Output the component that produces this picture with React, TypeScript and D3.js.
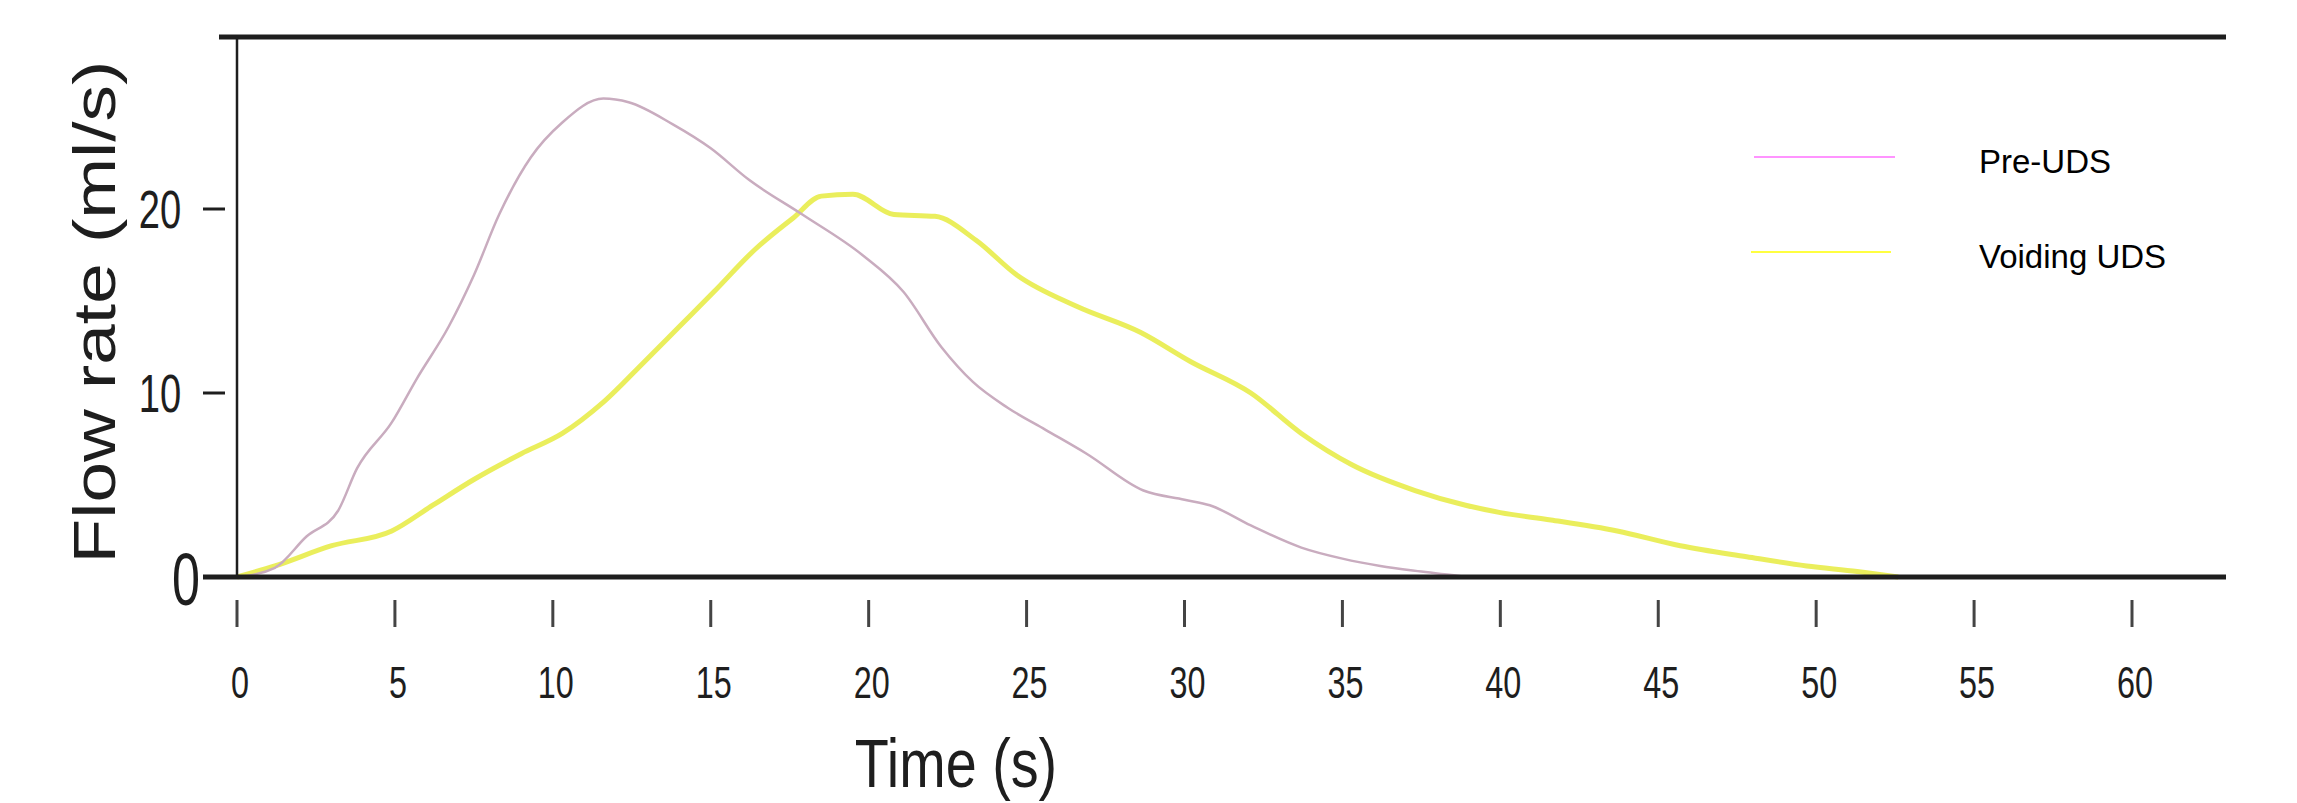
import React from 'react';
import * as d3 from 'd3';

// chart data
const preTime = [0, 1.2, 2.2, 3.2, 3.8, 4.9, 5.7, 6.7, 7.5, 8.3, 9.3, 10.3, 11.6, 12.4, 13.8, 15.0, 16.2, 17.9, 19.8, 21.1, 22.3, 23.3, 24.4, 25.6, 26.9, 28.7, 30.0, 30.8, 32.1, 33.7, 35.0, 36.2, 37.5, 39.0];
const preFlow = [0, 0.5, 2.2, 3.6, 5.9, 8.4, 10.8, 13.6, 16.4, 19.7, 22.8, 24.7, 26.0, 25.8, 24.6, 23.3, 21.6, 19.7, 17.5, 15.5, 12.5, 10.6, 9.2, 8.0, 6.7, 4.7, 4.2, 3.9, 2.8, 1.6, 1.0, 0.6, 0.3, 0];

const voidTime = [0, 1.2, 3.0, 4.9, 6.2, 7.5, 9.0, 10.3, 11.6, 12.9, 14.0, 15.1, 16.4, 17.6, 18.5, 19.5, 20.8, 22.1, 23.4, 24.7, 26.6, 28.6, 30.2, 32.1, 33.7, 35.3, 37.3, 38.9, 40.0, 41.6, 43.7, 45.7, 47.8, 49.7, 51.3, 52.6];
const voidFlow = [0, 0.6, 1.7, 2.5, 3.9, 5.3, 6.7, 7.8, 9.5, 11.7, 13.6, 15.5, 17.8, 19.5, 20.7, 20.8, 19.7, 19.6, 18.3, 16.4, 14.7, 13.3, 11.7, 10.0, 7.8, 6.1, 4.7, 3.9, 3.5, 3.1, 2.5, 1.7, 1.1, 0.6, 0.3, 0];

const xTicks = [0, 5, 10, 15, 20, 25, 30, 35, 40, 45, 50, 55, 60];
const yTicks = [10, 20];
const seriesNames = ['Pre-UDS', 'Voiding UDS'];

const W = 2297;
const H = 803;
const font = '"Liberation Sans", Arial, Helvetica, sans-serif';
const ink = '#1e1e1e';

const preColor = '#c9acbf';
const voidColor = '#e8ec4a';
const legendColors = ['#ff70ff', '#ffff00'];

// squashed text, the scanned original is narrow
const Squash = ({x, y, size, sx = 0.72, anchor = 'middle', children}) => (
    <text transform={`translate(${x},${y}) scale(${sx},1)`} fontSize={size}
          textAnchor={anchor} fill={ink} fontFamily={font}>{children}</text>
);

const App = () => {
    const x = d3.scaleLinear().domain([0, 60]).range([237, 2132]);
    const y = d3.scaleLinear().domain([0, 20]).range([577, 209]);
    const yTop = 29.35;

    const line = d3.line().curve(d3.curveMonotoneX);
    const prePath = line(preTime.map((t, i) => [x(t), y(preFlow[i])]));
    const voidPath = line(voidTime.map((t, i) => [x(t), y(voidFlow[i])]));

    return (
        <svg width={W} height={H} style={{position: 'absolute', left: 0, top: 0, background: '#fff'}}>
            <rect width={W} height={H} fill="#fff"/>

            {/* curves */}
            <path d={voidPath} fill="none" stroke={voidColor} strokeWidth={5} strokeLinejoin="round" opacity={0.9}/>
            <path d={prePath} fill="none" stroke={preColor} strokeWidth={2.5} strokeLinejoin="round"/>

            {/* frame */}
            <line x1={219} x2={2226} y1={y(yTop)} y2={y(yTop)} stroke={ink} strokeWidth={5}/>
            <line x1={x(0)} x2={x(0)} y1={y(yTop)} y2={y(0)} stroke={ink} strokeWidth={2.5}/>
            <line x1={203} x2={2226} y1={y(0)} y2={y(0)} stroke={ink} strokeWidth={5}/>

            {/* y ticks */}
            {yTicks.map(v => (
                <g key={'y' + v}>
                    <line x1={203} x2={225} y1={y(v)} y2={y(v)} stroke={ink} strokeWidth={3}/>
                    <Squash x={160} y={y(v) + 19} size={53}>{v}</Squash>
                </g>
            ))}
            <Squash x={186} y={605} size={74} sx={0.68}>0</Squash>

            {/* x ticks */}
            {xTicks.map(t => (
                <g key={'x' + t}>
                    <line x1={x(t)} x2={x(t)} y1={600} y2={627} stroke="#444" strokeWidth={3}/>
                    <Squash x={x(t) + 3} y={698} size={45}>{t}</Squash>
                </g>
            ))}

            {/* axis titles */}
            <Squash x={956} y={787} size={68} sx={0.82}>Time (s)</Squash>
            <text transform="translate(115,312) rotate(-90) scale(1,0.8)" fontSize={73}
                  textAnchor="middle" fill={ink} fontFamily={font}>Flow rate (ml/s)</text>

            {/* legend */}
            <line x1={1754} x2={1895} y1={157} y2={157} stroke={legendColors[0]} strokeWidth={1.5}/>
            <text x={1979} y={173} fontSize={33} fontFamily={font} fill="#000">{seriesNames[0]}</text>
            <line x1={1751} x2={1891} y1={252} y2={252} stroke={legendColors[1]} strokeWidth={1.5}/>
            <text x={1979} y={268} fontSize={33} fontFamily={font} fill="#000">{seriesNames[1]}</text>
        </svg>
    );
};

export default App;
